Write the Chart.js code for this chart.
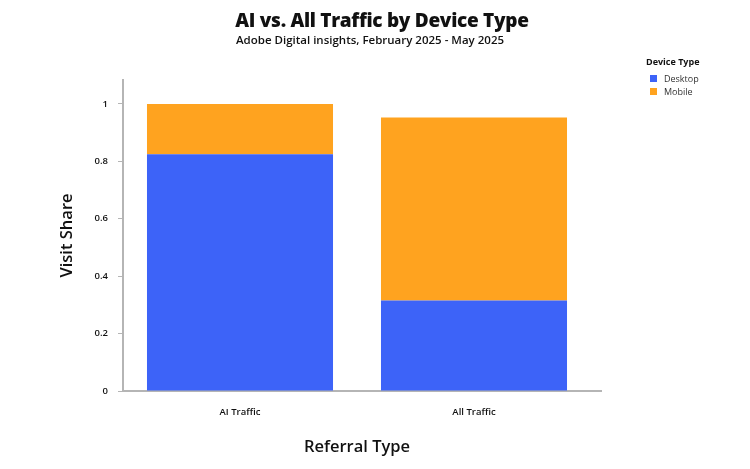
<!DOCTYPE html>
<html>
<head>
<meta charset="utf-8">
<script src="https://cdn.jsdelivr.net/npm/chart.js@4.4.1/dist/chart.umd.min.js"></script>
<style>
  html, body { margin:0; padding:0; background:#fff; }
  #wrap { position:relative; width:750px; height:469px; font-family:"Open Sans", "Noto Sans", sans-serif; color:#111; }
  canvas { position:absolute; left:0; top:0; }
  .t { position:absolute; white-space:nowrap; transform:translate(-50%,-50%); }
  #title { left:382px; top:20px; font-size:19px; font-weight:800; letter-spacing:-0.3px; }
  #subtitle { left:370px; top:39px; font-size:11.5px; font-weight:600; }
  #legend { position:absolute; left:646px; top:55px; font-size:9px; }
  #legend .lt { font-weight:700; margin-bottom:4px; }
  #legend .it { display:flex; align-items:center; height:13px; color:#333; }
  #legend .sw { width:7px; height:7px; margin-right:7px; margin-left:4px; }
</style>
</head>
<body>
<div id="wrap">
  <canvas id="c" width="750" height="469"></canvas>
  <div class="t" id="title">AI vs. All Traffic by Device Type</div>
  <div class="t" id="subtitle">Adobe Digital insights, February 2025 - May 2025</div>
  <div id="legend"></div>
</div>
<script>
const categories = ["AI Traffic", "All Traffic"];
const desktopShare = [0.825, 0.315];
const mobileShare = [0.175, 0.638];
const seriesNames = ["Desktop", "Mobile"];
const seriesColors = ["#3D63F8", "#FFA31F"];
const yTickValues = [0, 0.2, 0.4, 0.6, 0.8, 1];

const legend = document.getElementById('legend');
legend.innerHTML = '<div class="lt">Device Type</div>' + seriesNames.map((n,i)=>
  `<div class="it"><span class="sw" style="background:${seriesColors[i]}"></span>${n}</div>`).join('');

const extendAxis = {
  id: 'extendAxis',
  afterDraw(chart) {
    const { ctx, chartArea } = chart;
    ctx.save();
    ctx.strokeStyle = '#b5b5b5';
    ctx.lineWidth = 2;
    ctx.beginPath();
    ctx.moveTo(chartArea.right - 2, chartArea.bottom);
    ctx.lineTo(602, chartArea.bottom);
    ctx.stroke();
    ctx.restore();
  }
};

const fontFam = '"Open Sans", "Noto Sans", sans-serif';
new Chart(document.getElementById('c'), {
  type: 'bar',
  data: {
    labels: categories,
    datasets: [
      { label: seriesNames[0], data: desktopShare, backgroundColor: seriesColors[0] },
      { label: seriesNames[1], data: mobileShare, backgroundColor: seriesColors[1] }
    ]
  },
  plugins: [extendAxis],
  options: {
    responsive: false,
    animation: false,
    devicePixelRatio: 1,
    layout: { padding: { left: 57, right: 159, top: 80, bottom: 12 } },
    plugins: { legend: { display: false }, tooltip: { enabled: false } },
    datasets: { bar: { categoryPercentage: 1, barPercentage: 0.795 } },
    scales: {
      x: {
        stacked: true,
        grid: { display: false, drawOnChartArea: false, tickLength: 5, color: '#aaa' },
        border: { display: true, color: '#b5b5b5', width: 2 },
        ticks: { color: '#111', font: { family: fontFam, size: 9.5, weight: '600' }, padding: 11 },
        title: { display: true, text: 'Referral Type', color: '#111', font: { family: fontFam, size: 16.5, weight: '600' }, padding: { top: 0, bottom: 0 } },
        afterFit: (s) => { s.height = 469 - 12 - 391; }
      },
      y: {
        stacked: true,
        min: 0,
        max: 1.0836,
        afterBuildTicks: (s) => { s.ticks = yTickValues.map(v => ({ value: v })); },
        grid: { display: true, drawOnChartArea: false, tickLength: 5, color: '#b5b5b5' },
        border: { display: true, color: '#b5b5b5', width: 2 },
        ticks: { color: '#111', font: { family: fontFam, size: 9.5, weight: '600' }, padding: 10,
                 callback: (v) => String(Number(v.toFixed(2))) },
        title: { display: true, text: 'Visit Share', color: '#111', font: { family: fontFam, size: 16.5, weight: '600' }, padding: { top: 0, bottom: 0 } },
        afterFit: (s) => { s.width = 123 - 57; }
      }
    }
  }
});
</script>
</body>
</html>
